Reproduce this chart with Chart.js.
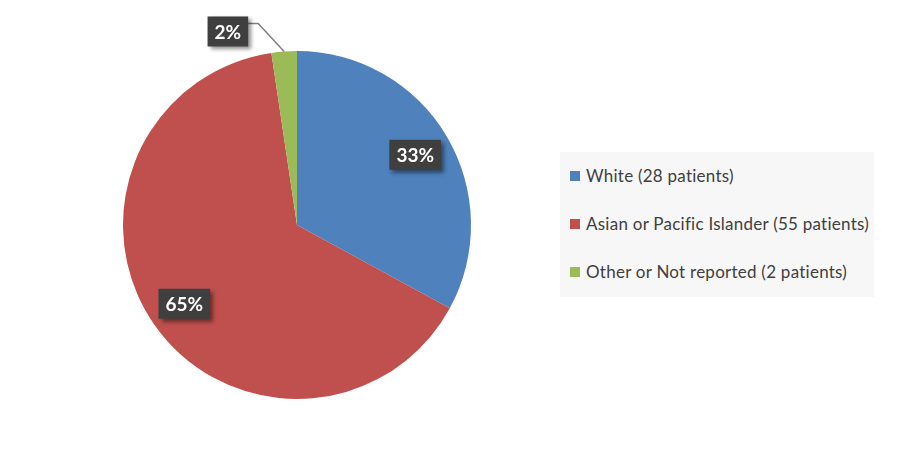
<!DOCTYPE html>
<html>
<head>
<meta charset="utf-8">
<script src="https://cdn.jsdelivr.net/npm/chart.js@4.4.1/dist/chart.umd.min.js"></script>
<style>
  html, body { margin: 0; padding: 0; background: #fff; }
  #wrap { position: relative; width: 900px; height: 450px; }
  #legend {
    position: absolute; left: 560px; top: 152px; width: 314px; height: 145px;
    background: #f7f7f7; font-family: Lato, "Open Sans", sans-serif; font-size: 17px; color: #404040;
    letter-spacing: 0.25px;
  }
  .item { position: absolute; left: 10px; display: flex; align-items: center; white-space: nowrap; }
  .sw { width: 10px; height: 10px; margin-right: 6px; }
</style>
</head>
<body>
<div id="wrap">
  <canvas id="pie" width="900" height="450"></canvas>
  <div id="legend"></div>
</div>
<script>
// race breakdown
const categories = ['White', 'Asian or Pacific Islander', 'Other or Not reported'];
const patients = [28, 55, 2];
const colors = ['#4f81bd', '#c0504d', '#9bbb59'];

const total = patients.reduce((a, b) => a + b, 0);

// legend as html next to the pie
const legendEl = document.getElementById('legend');
const rowTops = [13, 61, 109];
categories.forEach((name, i) => {
  const row = document.createElement('div');
  row.className = 'item';
  row.style.top = rowTops[i] + 'px';
  row.innerHTML = '<span class="sw" style="background:' + colors[i] + '"></span>' +
    name + ' (' + patients[i] + ' patients)';
  legendEl.appendChild(row);
});

function drawBox(ctx, text, cx, cy) {
  ctx.font = 'bold 19px Lato, "Open Sans", sans-serif';
  const w = ctx.measureText(text).width + 14;
  const h = 30;
  ctx.save();
  ctx.shadowColor = 'rgba(0,0,0,0.45)';
  ctx.shadowBlur = 4;
  ctx.shadowOffsetX = 3;
  ctx.shadowOffsetY = 3;
  ctx.fillStyle = '#3f3f3f';
  ctx.fillRect(cx - w / 2, cy - h / 2, w, h);
  ctx.restore();
  ctx.fillStyle = '#fff';
  ctx.textAlign = 'center';
  ctx.textBaseline = 'middle';
  ctx.fillText(text, cx, cy + 1);
  return w;
}

// percent labels on dark boxes
const boxLabels = {
  id: 'boxLabels',
  afterDraw(chart) {
    const ctx = chart.ctx;
    const arcs = chart.getDatasetMeta(0).data;
    arcs.forEach((arc, i) => {
      const pct = Math.round(patients[i] / total * 100) + '%';
      const mid = (arc.startAngle + arc.endAngle) / 2;
      const r = arc.outerRadius;
      if (patients[i] / total > 0.05) {
        const cx = arc.x + Math.cos(mid) * r * 0.79;
        const cy = arc.y + Math.sin(mid) * r * 0.79;
        drawBox(ctx, pct, cx, cy);
      } else {
        // small slice: label outside with leader line
        const ex = arc.x + Math.cos(mid) * r;
        const ey = arc.y + Math.sin(mid) * r;
        const kx = ex - 26, ky = ey - 28;
        ctx.save();
        ctx.strokeStyle = '#7f7f7f';
        ctx.lineWidth = 1.5;
        ctx.beginPath();
        ctx.moveTo(ex, ey);
        ctx.lineTo(kx, ky);
        ctx.lineTo(kx - 10, ky);
        ctx.stroke();
        ctx.restore();
        ctx.font = 'bold 19px Lato, "Open Sans", sans-serif';
        const w = ctx.measureText(pct).width + 14;
        drawBox(ctx, pct, kx - 10 - w / 2, ky + 8);
      }
    });
  }
};

new Chart(document.getElementById('pie'), {
  type: 'pie',
  data: {
    labels: categories,
    datasets: [{
      data: patients,
      backgroundColor: colors,
      borderWidth: 0
    }]
  },
  options: {
    responsive: false,
    animation: false,
    layout: { padding: { left: 123, right: 429, top: 51, bottom: 51 } },
    plugins: {
      legend: { display: false },
      tooltip: { enabled: false }
    }
  },
  plugins: [boxLabels]
});
</script>
</body>
</html>
